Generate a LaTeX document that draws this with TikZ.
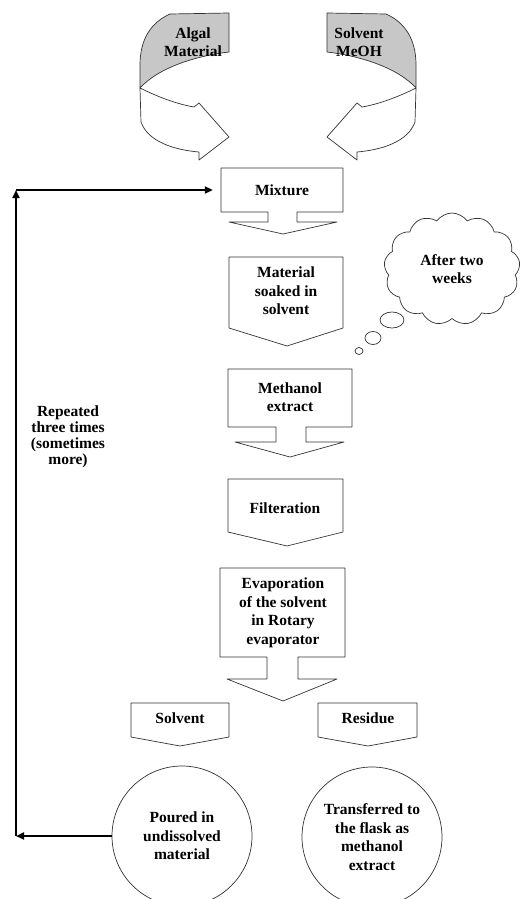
\documentclass[tikz,border=0pt]{standalone}
\usepackage{fontspec}
\setmainfont{Liberation Serif}
\usetikzlibrary{arrows.meta, shapes.symbols}

\begin{document}
\begin{tikzpicture}[x=1pt, y=-1pt,
    blk/.style={draw=black!80, line width=0.7pt, fill=white, line join=round},
    txt/.style={font=\fontsize{15.5}{18.5}\selectfont\bfseries, align=center, inner sep=0pt},
    repeatline/.style={line width=2pt, -{Triangle[length=8pt, width=7pt]}}]
    \useasboundingbox (0,0) rectangle (522,899);

    % Curved arrows at the top
    \draw[blk] (140,88) .. controls (156,96) and (176,104) .. (194,107) -- (199,103) -- (229,137)
        -- (199,160) -- (199,152) .. controls (175,150) and (148,142) .. (141,122) -- cycle;
    \draw[blk, fill=black!22] (170,14) -- (229,13) -- (229,52) .. controls (195,56) and (158,68) .. (140,88)
        -- (140,65) .. controls (140,38) and (152,22) .. (170,14) -- cycle;
    \begin{scope}[xshift=556pt, xscale=-1]
        \draw[blk] (140,88) .. controls (156,96) and (176,104) .. (194,107) -- (199,103) -- (229,137)
            -- (199,160) -- (199,152) .. controls (175,150) and (148,142) .. (141,122) -- cycle;
        \draw[blk, fill=black!22] (170,14) -- (229,13) -- (229,52) .. controls (195,56) and (158,68) .. (140,88)
            -- (140,65) .. controls (140,38) and (152,22) .. (170,14) -- cycle;
    \end{scope}
    \node[txt] (algal) at (193,42) {Algal\\Material};
    \node[txt] (meoh) at (359,42) {Solvent\\MeOH};

    % Steps
    \draw[blk] (221,168) -- (343,168) -- (343,212) -- (297,212) -- (297,222) -- (337,222) -- (283,234)
        -- (229,222) -- (268,222) -- (268,212) -- (221,212) -- cycle;
    \node[txt, minimum width=122, minimum height=44] (mix) at (282,190) {Mixture};

    \draw[blk] (229,257) -- (343,257) -- (343,328) -- (287,346) -- (229,328) -- cycle;
    \node[txt] (soak) at (286,291) {Material\\soaked in\\solvent};

    \draw[blk] (228,369) -- (352,369) -- (352,427) -- (306,427) -- (306,442) -- (344,442) -- (290,457)
        -- (235,442) -- (276,442) -- (276,427) -- (228,427) -- cycle;
    \node[txt] (extract) at (290,397) {Methanol\\extract};

    \draw[blk] (228,479) -- (343,479) -- (343,532) -- (287,546) -- (228,532) -- cycle;
    \node[txt] (filter) at (285,508) {Filteration};

    \draw[blk] (220,568) -- (345,568) -- (345,657) -- (298,657) -- (298,679) -- (337,679) -- (283,701)
        -- (227,679) -- (267,679) -- (267,657) -- (220,657) -- cycle;
    \node[txt] (evap) at (283,613) {Evaporation\\of the solvent\\in Rotary\\evaporator};

    \draw[blk] (131,703) -- (229,703) -- (229,737) -- (180,746) -- (131,737) -- cycle;
    \node[txt] (solv) at (180,718) {Solvent};
    \draw[blk] (318,703) -- (417,703) -- (417,737) -- (368,746) -- (318,737) -- cycle;
    \node[txt] (resid) at (368,718) {Residue};

    % Results
    \node[blk, txt, circle, minimum size=140] (pour) at (182,836) {Poured in\\undissolved\\material};
    \node[blk, txt, circle, minimum size=140] (flask) at (372,837) {Transferred to\\the flask as\\methanol\\extract};

    % Thought cloud
    \node[blk, txt, cloud, cloud puffs=13, cloud puff arc=110, cloud ignores aspect, minimum width=136, minimum height=112] (wait) at (452,269) {After two\\weeks};
    \draw[blk] (392,320) ellipse [x radius=12, y radius=8];
    \draw[blk] (373,338) ellipse [x radius=8, y radius=6.5];
    \draw[blk] (359,351) ellipse [x radius=4, y radius=3.5];

    % Loop back
    \coordinate (bot) at (16,836);
    \coordinate (top) at (16,190);
    \draw[repeatline] (pour.west) -- (bot);
    \draw[repeatline] (bot) -- (top);
    \draw[repeatline, shorten >=8pt] (top) -- (mix.west);
    \node[txt, font=\fontsize{15.5}{16}\selectfont\bfseries] (rep) at (68,437) {Repeated\\three times\\(sometimes\\more)};
\end{tikzpicture}
\end{document}
